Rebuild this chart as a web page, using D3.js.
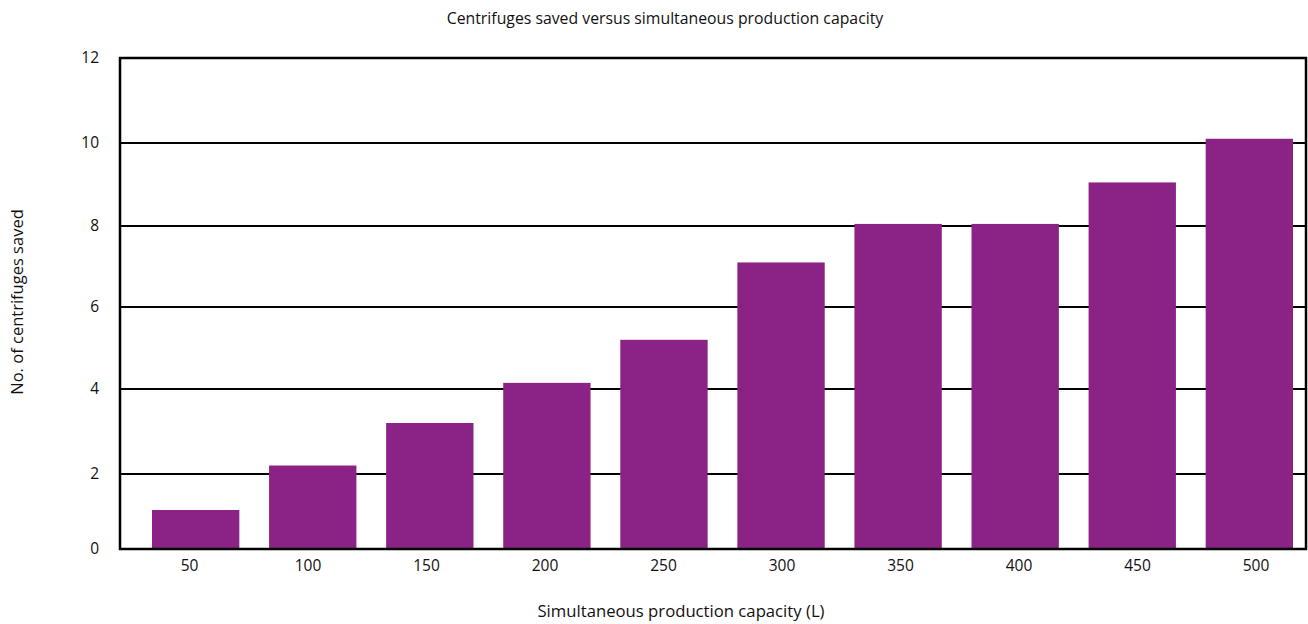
<!DOCTYPE html>
<html>
<head>
<meta charset="utf-8">
<script src="https://cdn.jsdelivr.net/npm/d3@7"></script>
<style>
  body { margin: 0; background: #fff; }
  text { font-family: "Open Sans", "Noto Sans", sans-serif; fill: #111; }
</style>
</head>
<body>
<svg id="chart" width="1308" height="624"></svg>
<script>
// data
const capacities = ["50", "100", "150", "200", "250", "300", "350", "400", "450", "500"];
const saved = [1.04, 2.2, 3.2, 4.15, 5.2, 7.1, 8.05, 8.05, 9.05, 10.1];
const yTicks = [0, 2, 4, 6, 8, 10, 12];

const svg = d3.select("#chart");
const frame = { left: 120, right: 1306, top: 58, bottom: 549 };

// y scale - the original's gridlines are not quite evenly spaced
const y = d3.scaleLinear()
    .domain(yTicks)
    .range([frame.bottom, 474, 389, 307, 226, 143, frame.top]);

const x = d3.scaleBand()
    .domain(capacities)
    .range([152, 1293])
    .paddingInner(0.254)
    .paddingOuter(0);

// tick labels sit on their own spacing
const xLabel = d3.scalePoint()
    .domain(capacities)
    .range([189.5, 1256]);

// gridlines
svg.append("g")
    .selectAll("line")
    .data(yTicks.slice(1, -1))
    .join("line")
    .attr("x1", frame.left)
    .attr("x2", frame.right)
    .attr("y1", d => y(d))
    .attr("y2", d => y(d))
    .attr("stroke", "#000")
    .attr("stroke-width", 2.2);

// bars
svg.append("g")
    .selectAll("rect")
    .data(capacities)
    .join("rect")
    .attr("x", d => x(d))
    .attr("width", x.bandwidth())
    .attr("y", (d, i) => y(saved[i]))
    .attr("height", (d, i) => frame.bottom - y(saved[i]))
    .attr("fill", "#8b2387");

// frame
svg.append("rect")
    .attr("x", frame.left)
    .attr("y", frame.top)
    .attr("width", frame.right - frame.left)
    .attr("height", frame.bottom - frame.top)
    .attr("fill", "none")
    .attr("stroke", "#000")
    .attr("stroke-width", 2.5);

// y tick labels
svg.append("g")
    .selectAll("text")
    .data(yTicks)
    .join("text")
    .attr("x", 99)
    .attr("y", d => y(d))
    .attr("dy", "0.35em")
    .attr("text-anchor", "end")
    .style("font-size", "15.5px")
    .text(d => d);

// x tick labels
svg.append("g")
    .selectAll("text")
    .data(capacities)
    .join("text")
    .attr("x", d => xLabel(d))
    .attr("y", 571)
    .attr("text-anchor", "middle")
    .style("font-size", "15.5px")
    .text(d => d);

// titles
svg.append("text")
    .attr("x", 665)
    .attr("y", 24)
    .attr("text-anchor", "middle")
    .style("font-size", "15.8px")
    .text("Centrifuges saved versus simultaneous production capacity");

svg.append("text")
    .attr("x", 681)
    .attr("y", 617)
    .attr("text-anchor", "middle")
    .style("font-size", "16.7px")
    .text("Simultaneous production capacity (L)");

svg.append("text")
    .attr("transform", "translate(23,302) rotate(-90)")
    .attr("text-anchor", "middle")
    .style("font-size", "16.5px")
    .text("No. of centrifuges saved");
</script>
</body>
</html>
